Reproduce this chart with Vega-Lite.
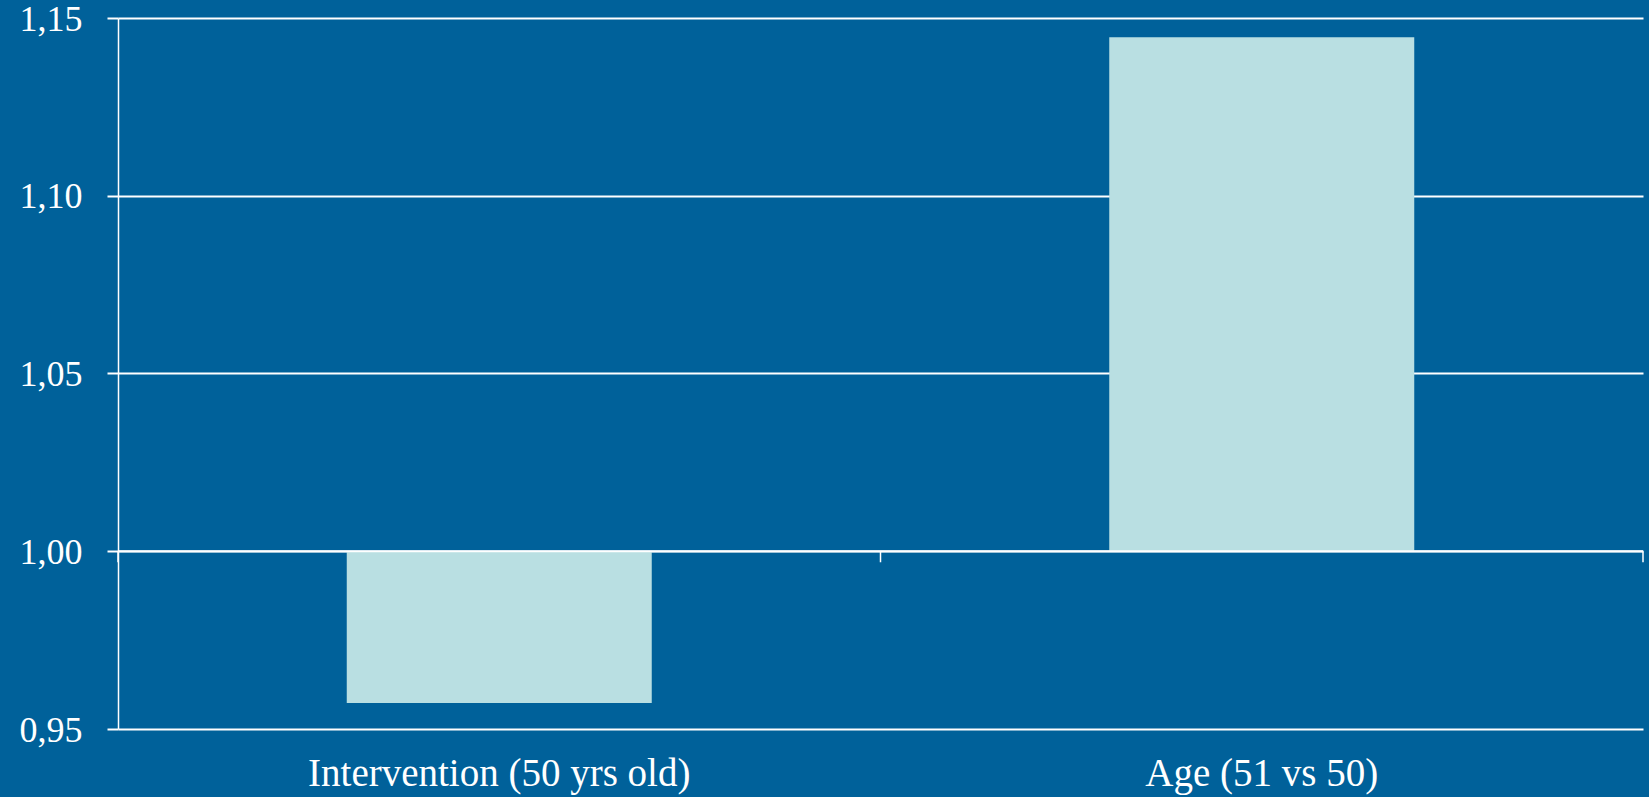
{
  "$schema": "https://vega.github.io/schema/vega-lite/v6.json",
  "width": 1525,
  "height": 711,
  "autosize": {"type": "none"},
  "padding": {"left": 118, "top": 18, "right": 6, "bottom": 68},
  "background": "#00619A",
  "config": {
    "view": {"stroke": null},
    "font": "Liberation Serif"
  },
  "datasets": {
    "bars": [
      {"group": "Intervention (50 yrs old)", "value": 0.9573},
      {"group": "Age (51 vs 50)", "value": 1.1446}
    ],
    "baseline": [
      {"pos": 0, "end": 2}
    ],
    "ticks": [
      {"pos": 0},
      {"pos": 1},
      {"pos": 2}
    ]
  },
  "layer": [
    {
      "data": {"name": "bars"},
      "mark": {"type": "bar", "color": "#B9DFE2"},
      "encoding": {
        "x": {
          "field": "group",
          "type": "nominal",
          "sort": null,
          "scale": {"paddingInner": 0.6, "paddingOuter": 0.3},
          "axis": {
            "title": null,
            "labelAngle": 0,
            "labelLimit": 0,
            "ticks": false,
            "domain": false,
            "labelColor": "#FFFFFF",
            "labelFontSize": 39,
            "labelPadding": 25
          }
        },
        "y": {
          "field": "value",
          "type": "quantitative",
          "scale": {"domain": [0.95, 1.15], "zero": false, "nice": false},
          "axis": {
            "title": null,
            "values": [0.95, 1.0, 1.05, 1.1, 1.15],
            "labelExpr": "replace(format(datum.value, '.2f'), '.', ',')",
            "grid": true,
            "gridColor": "#FFFFFF",
            "gridWidth": 2,
            "gridOpacity": 1,
            "domainColor": "#FFFFFF",
            "domainWidth": 1.5,
            "tickColor": "#FFFFFF",
            "tickWidth": 2,
            "tickSize": 11,
            "labelColor": "#FFFFFF",
            "labelFontSize": 36,
            "labelPadding": 25,
            "labelBaseline": "alphabetic",
            "labelOffset": 12
          }
        },
        "y2": {"datum": 1}
      }
    },
    {
      "data": {"name": "baseline"},
      "mark": {"type": "rule", "color": "#FFFFFF", "strokeWidth": 2},
      "encoding": {
        "x": {"field": "pos", "type": "quantitative", "scale": {"domain": [0, 2]}, "axis": null},
        "x2": {"field": "end"},
        "y": {"datum": 1}
      }
    },
    {
      "data": {"name": "ticks"},
      "mark": {"type": "rule", "color": "#FFFFFF", "strokeWidth": 1.5},
      "encoding": {
        "x": {"field": "pos", "type": "quantitative", "scale": {"domain": [0, 2]}, "axis": null},
        "y": {"datum": 1},
        "y2": {"datum": 0.9969}
      }
    }
  ],
  "resolve": {"scale": {"x": "independent"}}
}
